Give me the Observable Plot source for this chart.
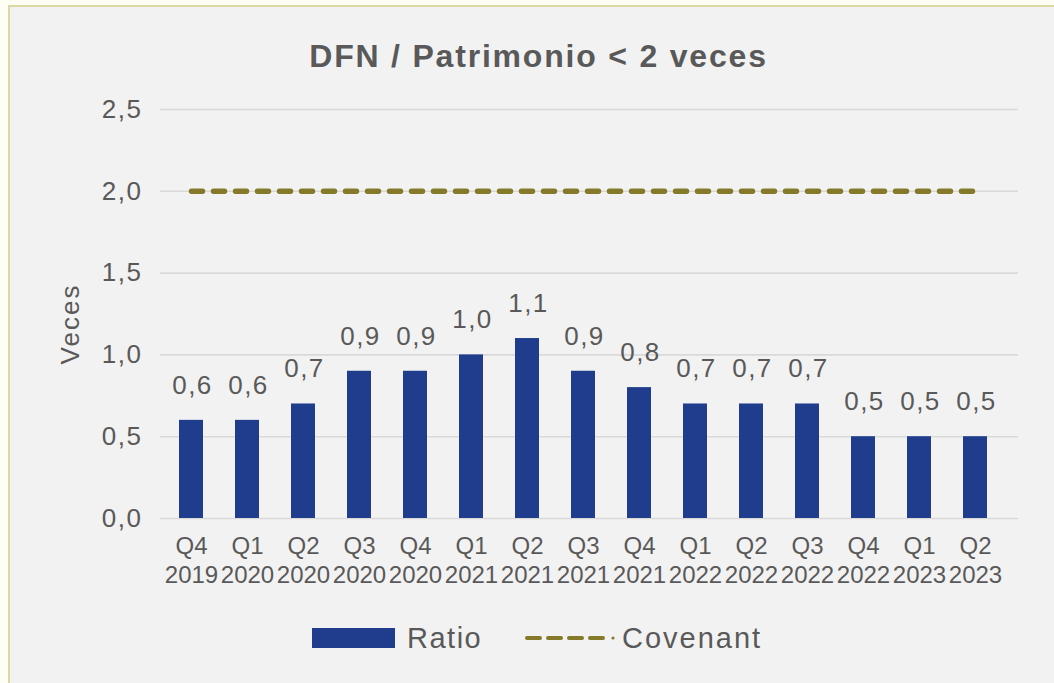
<!DOCTYPE html>
<html>
<head>
<meta charset="utf-8">
<script src="https://cdn.jsdelivr.net/npm/d3@7"></script>
<script src="https://cdn.jsdelivr.net/npm/@observablehq/plot@0.6"></script>
<style>
  html, body { margin: 0; padding: 0; width: 1054px; height: 683px; overflow: hidden; background: #fffef4; font-family: "Liberation Sans", Arial, sans-serif; }
  #frame { position: absolute; left: 8px; top: 5px; width: 1046px; height: 678px; background: #f2f2f2; border-left: 2px solid #dcd8a6; border-top: 2px solid #dcd8a6; box-sizing: border-box; }
  #title { position: absolute; left: 0; width: 1077px; top: 38px; text-align: center; font-size: 32px; font-weight: bold; color: #595959; letter-spacing: 1.8px; }
  #chart { position: absolute; left: 0; top: 90px; }
  .lg { position: absolute; font-size: 29px; color: #595959; line-height: 36px; top: 620px; }
  #chart svg g[aria-label="y-axis tick label"] text { letter-spacing: 1.5px; }
</style>
</head>
<body>
<div id="frame"></div>
<div id="title">DFN / Patrimonio &lt; 2 veces</div>
<div id="chart"></div>
<div class="lg" style="left:312px;top:628px;width:83px;height:20px;background:#1f3d8c;"></div>
<div class="lg" style="left:407px;letter-spacing:1.5px;">Ratio</div>
<svg class="lg" style="left:520px;top:628px;" width="100" height="20">
  <line x1="7" x2="83" y1="10" y2="10" stroke="#857a2a" stroke-width="4" stroke-dasharray="13,8" stroke-linecap="round"/>
  <circle cx="93" cy="10" r="1.6" fill="#857a2a"/>
</svg>
<div class="lg" style="left:622px;letter-spacing:2px;">Covenant</div>
<script>
const quarters = ["Q4","Q1","Q2","Q3","Q4","Q1","Q2","Q3","Q4","Q1","Q2","Q3","Q4","Q1","Q2"];
const years = ["2019","2020","2020","2020","2020","2021","2021","2021","2021","2022","2022","2022","2022","2023","2023"];
const ratio = [0.6,0.6,0.7,0.9,0.9,1.0,1.1,0.9,0.8,0.7,0.7,0.7,0.5,0.5,0.5];
const covenant = [2,2,2,2,2,2,2,2,2,2,2,2,2,2,2];
const yTicks = [0,0.5,1.0,1.5,2.0,2.5];
const yTitle = ["Veces"];

const cats = quarters.map((q,i) => q + "\n" + years[i]);
const data = cats.map((c,i) => ({cat: c, ratio: ratio[i], covenant: covenant[i]}));
const fmt = d => d.toFixed(1).replace(".", ",");

const chart = Plot.plot({
  width: 1054,
  height: 510,
  marginLeft: 162,
  marginRight: 51,
  marginTop: 19,
  marginBottom: 82,
  style: {background: "transparent", fontFamily: "Liberation Sans, Arial, sans-serif", color: "#595959"},
  x: {domain: cats, paddingInner: 0.58, paddingOuter: 0.29, align: 0.5},
  y: {domain: [0, 2.5]},
  marks: [
    Plot.ruleY(yTicks, {stroke: "#d9d9d9", strokeWidth: 1.6, insetRight: -15, insetLeft: -2}),
    Plot.barY(data, {x: "cat", y: "ratio", fill: "#1f3d8c"}),
    Plot.text(data, {x: "cat", y: "ratio", text: d => fmt(d.ratio), dy: -35, dx: 1, fontSize: 26, fill: "#595959"}),
    Plot.lineY(data, {x: "cat", y: "covenant", stroke: "#857a2a", strokeWidth: 5.5, strokeDasharray: "11,11", strokeLinecap: "round"}),
    Plot.axisX({tickSize: 0, tickPadding: 16, fontSize: 24, lineHeight: 1.17, lineAnchor: "top", label: null, fill: "#595959"}),
    Plot.axisY({ticks: yTicks, tickFormat: fmt, tickSize: 0, tickPadding: 20, fontSize: 26, fill: "#595959", label: null}),
    Plot.text(yTitle, {text: d => d, frameAnchor: "left", textAnchor: "middle", rotate: -90, dx: -92, dy: 10, fontSize: 26, fill: "#595959"})
  ]
});
const textGroups = d3.select(chart).selectAll('g[aria-label="text"]').nodes();
if (textGroups[0]) d3.select(textGroups[0]).selectAll("text").style("letter-spacing", "1.5px");
if (textGroups[1]) d3.select(textGroups[1]).selectAll("text").style("letter-spacing", "2px");
document.getElementById("chart").appendChild(chart);
</script>
</body>
</html>
